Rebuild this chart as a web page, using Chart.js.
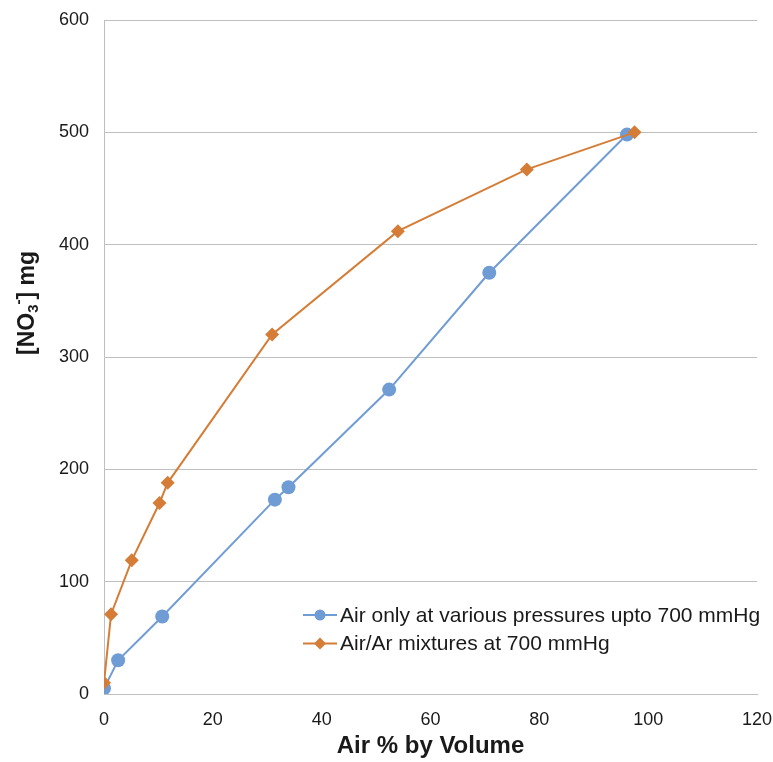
<!DOCTYPE html>
<html>
<head>
<meta charset="utf-8">
<script src="https://cdn.jsdelivr.net/npm/chart.js@4/dist/chart.umd.min.js"></script>
<style>
  html, body { margin: 0; padding: 0; background: #fff; }
  #wrap { width: 773px; height: 762px; }
</style>
</head>
<body>
<div id="wrap"><canvas id="chartCanvas" width="773" height="762"></canvas></div>
<script>
// Air only at various pressures
const airOnlyX = [0, 2.6, 10.7, 31.4, 33.9, 52.4, 70.8, 96.1];
const airOnlyY = [5, 30, 69, 173, 184, 271, 375, 498];
// Air/Ar mixtures at 700 mmHg
const mixX = [0, 1.3, 5.1, 10.2, 11.7, 30.9, 54.0, 77.7, 97.5];
const mixY = [10, 71, 119, 170, 188, 320, 412, 467, 500];

const seriesLabels = ['Air only at various pressures upto 700 mmHg', 'Air/Ar mixtures at 700 mmHg'];
const xTitle = 'Air % by Volume';

const blue = '#709CD6';
const orange = '#D57D37';
const fontFamily = '"Liberation Sans", Arial, sans-serif';

const toPoints = (xs, ys) => xs.map((x, i) => ({ x, y: ys[i] }));

// y axis title with subscript/superscript, drawn by hand
const yTitlePlugin = {
  id: 'yTitle',
  afterDraw(chart) {
    const ctx = chart.ctx;
    const parts = [
      { t: '[NO', size: 23, dy: 0 },
      { t: '3', size: 15, dy: 6 },
      { t: '-', size: 15, dy: -9 },
      { t: '] mg', size: 23, dy: 0 }
    ];
    ctx.save();
    ctx.translate(28, 303);
    ctx.rotate(-Math.PI / 2);
    ctx.fillStyle = '#1a1a1a';
    ctx.textBaseline = 'middle';
    ctx.textAlign = 'left';
    let total = 0;
    parts.forEach(p => {
      ctx.font = `bold ${p.size}px ${fontFamily}`;
      p.w = ctx.measureText(p.t).width;
      total += p.w;
    });
    let x = -total / 2;
    parts.forEach(p => {
      ctx.font = `bold ${p.size}px ${fontFamily}`;
      ctx.fillText(p.t, x, p.dy);
      x += p.w;
    });
    ctx.restore();
  }
};

// legend sitting inside the plot area
const legendPlugin = {
  id: 'innerLegend',
  afterDraw(chart) {
    const ctx = chart.ctx;
    const rows = [
      { y: 615, ds: chart.data.datasets[0] },
      { y: 643.5, ds: chart.data.datasets[1] }
    ];
    ctx.save();
    rows.forEach(({ y, ds }) => {
      ctx.strokeStyle = ds.borderColor;
      ctx.lineWidth = 2;
      ctx.beginPath();
      ctx.moveTo(303, y);
      ctx.lineTo(337, y);
      ctx.stroke();
      ctx.fillStyle = ds.pointBackgroundColor;
      ctx.beginPath();
      if (ds.pointStyle === 'circle') {
        ctx.arc(320, y, 5.5, 0, Math.PI * 2);
      } else {
        ctx.moveTo(320, y - 6);
        ctx.lineTo(326, y);
        ctx.lineTo(320, y + 6);
        ctx.lineTo(314, y);
        ctx.closePath();
      }
      ctx.fill();
      ctx.fillStyle = '#1a1a1a';
      ctx.font = `21px ${fontFamily}`;
      ctx.textBaseline = 'middle';
      ctx.fillText(ds.label, 340, y + 1);
    });
    ctx.restore();
  }
};

new Chart(document.getElementById('chartCanvas'), {
  type: 'scatter',
  data: {
    datasets: [
      {
        label: seriesLabels[0],
        data: toPoints(airOnlyX, airOnlyY),
        showLine: true,
        borderColor: blue,
        backgroundColor: blue,
        pointBackgroundColor: blue,
        pointBorderWidth: 0,
        borderWidth: 2,
        pointStyle: 'circle',
        pointRadius: 7,
        tension: 0,
        order: 1
      },
      {
        label: seriesLabels[1],
        data: toPoints(mixX, mixY),
        showLine: true,
        borderColor: orange,
        backgroundColor: orange,
        pointBackgroundColor: orange,
        pointBorderWidth: 0,
        borderWidth: 2,
        pointStyle: 'rectRot',
        pointRadius: 7,
        tension: 0,
        order: 0
      }
    ]
  },
  options: {
    responsive: false,
    animation: false,
    layout: { padding: { top: 20, right: 16, left: 0, bottom: 0 } },
    plugins: {
      legend: { display: false },
      tooltip: { enabled: false }
    },
    scales: {
      x: {
        type: 'linear',
        min: 0,
        max: 120,
        ticks: { stepSize: 20, padding: 15, color: '#1a1a1a', font: { family: fontFamily, size: 18 } },
        grid: { display: false, drawTicks: false },
        border: { display: true, color: '#BFBFBF', width: 1 },
        title: {
          display: true,
          text: xTitle,
          color: '#1a1a1a',
          font: { family: fontFamily, size: 24, weight: 'bold' },
          padding: { top: 0, bottom: 1 }
        },
        afterFit(scale) {
          scale.height = 68;
          scale.paddingLeft = 0;
          scale.paddingRight = 0;
        }
      },
      y: {
        min: 0,
        max: 600,
        ticks: { stepSize: 100, padding: 15, color: '#1a1a1a', font: { family: fontFamily, size: 18 } },
        grid: { color: '#BFBFBF', lineWidth: 1, drawTicks: false },
        border: { display: true, color: '#BFBFBF', width: 1 },
        afterFit(scale) {
          scale.width = 104;
          scale.paddingTop = 0;
          scale.paddingBottom = 0;
        }
      }
    }
  },
  plugins: [yTitlePlugin, legendPlugin]
});
</script>
</body>
</html>
